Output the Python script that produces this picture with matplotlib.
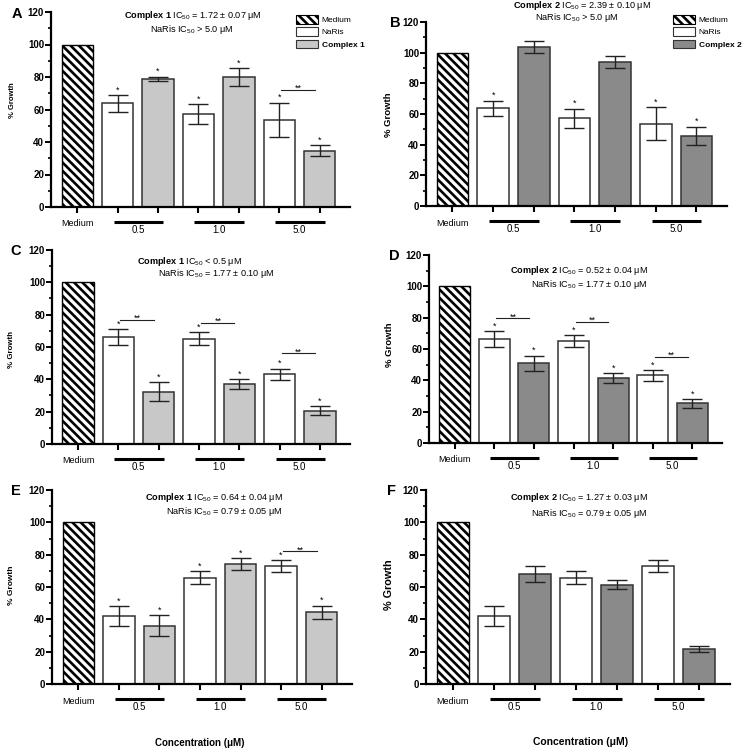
import matplotlib
matplotlib.use('Agg')
import matplotlib.pyplot as plt
import matplotlib.transforms as mtransforms
from matplotlib.patches import Patch
from matplotlib.ticker import MultipleLocator

plt.rcParams['font.family'] = ['Liberation Sans', 'DejaVu Sans']
plt.rcParams['mathtext.fontset'] = 'custom'
plt.rcParams['mathtext.rm'] = 'Liberation Sans'
plt.rcParams['mathtext.bf'] = 'Liberation Sans:bold'
plt.rcParams['mathtext.it'] = 'Liberation Sans:italic'
plt.rcParams['hatch.linewidth'] = 1.9

# data
conc_labels = ['0.5', '1.0', '5.0']
medium = 100

naris_A = [63.7, 57.1, 53.6]
naris_A_err = [5.0, 6.3, 10.7]
cx1_A = [78.9, 80.1, 34.7]
cx1_A_err = [1.4, 5.5, 3.5]

naris_B = [63.7, 57.2, 53.7]
naris_B_err = [5.0, 6.3, 10.7]
cx2_B = [104.0, 93.9, 45.9]
cx2_B_err = [3.9, 3.7, 5.9]

naris_C = [66.2, 65.0, 43.2]
naris_C_err = [5.1, 4.0, 3.5]
cx1_C = [32.4, 37.1, 20.6]
cx1_C_err = [5.8, 3.1, 2.7]

naris_D = [66.2, 65.0, 43.2]
naris_D_err = [5.1, 4.0, 3.5]
cx2_D = [50.8, 41.5, 25.4]
cx2_D_err = [5.0, 3.2, 2.8]

naris_E = [42.1, 65.8, 72.8]
naris_E_err = [6.3, 4.1, 3.6]
cx1_E = [35.9, 74.4, 44.3]
cx1_E_err = [6.5, 3.6, 4.2]

naris_F = [42.1, 65.8, 72.8]
naris_F_err = [6.3, 4.1, 3.6]
cx2_F = [68.2, 61.5, 21.4]
cx2_F_err = [4.8, 2.6, 1.9]

# single star flags (NaRis, complex) and double star brackets (group, height)
stars_A = ([1, 1, 1], [1, 1, 1]); pairs_A = [(2, 72)]
stars_B = ([1, 1, 1], [0, 0, 1]); pairs_B = []
stars_C = ([1, 1, 1], [1, 1, 1]); pairs_C = [(0, 77), (1, 75), (2, 56)]
stars_D = ([1, 1, 1], [1, 1, 1]); pairs_D = [(0, 79.5), (1, 77.3), (2, 55)]
stars_E = ([1, 1, 1], [1, 1, 1]); pairs_E = [(2, 82)]
stars_F = ([0, 0, 0], [0, 0, 0]); pairs_F = []

c1_color = '#c8c8c8'
c2_color = '#8a8a8a'
edge = '#333333'

W, H = 754, 755
fig = plt.figure(figsize=(W / 100, H / 100), dpi=100)


def rect(l, r, t, b):
    return [l / W, 1 - b / H, (r - l) / W, (b - t) / H]


def pt(x, y):
    return x / W, 1 - y / H


def draw_panel(ax, naris, naris_err, cx, cx_err, color, stars, pairs):
    xn = [1, 3, 5]
    xc = [2, 4, 6]
    ax.bar(0, medium, 0.78, color='white', edgecolor='black', hatch='\\\\\\\\', lw=1.0)
    ax.bar(xn, naris, 0.78, color='white', edgecolor=edge, lw=1.1)
    ax.bar(xc, cx, 0.78, color=color, edgecolor=edge, lw=1.1)
    ax.errorbar(xn, naris, yerr=naris_err, fmt='none', ecolor='#222222', elinewidth=1, capsize=7, capthick=1)
    ax.errorbar(xc, cx, yerr=cx_err, fmt='none', ecolor='#222222', elinewidth=1, capsize=7, capthick=1)
    for i in range(3):
        if stars[0][i]:
            ax.text(xn[i], naris[i] + naris_err[i] + 0.3, '*', ha='center', va='bottom', fontsize=6.5)
        if stars[1][i]:
            ax.text(xc[i], cx[i] + cx_err[i] + 0.3, '*', ha='center', va='bottom', fontsize=6.5)
    for g, h in pairs:
        ax.plot([xn[g] + 0.05, xn[g] + 0.88], [h, h], color='#222222', lw=0.8)
        ax.text(xn[g] + 0.47, h + 0.8, '**', ha='center', va='center', fontsize=6.5)

    ax.set_xlim(-0.65, 6.75)
    ax.set_ylim(0, 120)
    ax.spines['top'].set_visible(False)
    ax.spines['right'].set_visible(False)
    ax.spines['left'].set_linewidth(1.6)
    ax.spines['bottom'].set_linewidth(1.6)
    ax.yaxis.set_major_locator(MultipleLocator(20))
    ax.yaxis.set_minor_locator(MultipleLocator(10))
    ax.tick_params(axis='y', which='major', length=4, width=1.4, pad=1, labelsize=7)
    ax.tick_params(axis='y', which='minor', length=2.5, width=1.2)
    for lab in ax.get_yticklabels():
        lab.set_fontweight('bold')
    ax.set_xticks(range(7))
    ax.set_xticklabels(['Medium', '', '', '', '', '', ''])
    ax.tick_params(axis='x', length=4, width=1.5, pad=5, labelsize=6.5)

    base = mtransforms.blended_transform_factory(ax.transData, ax.transAxes)
    line_tr = mtransforms.offset_copy(base, fig=fig, y=-11, units='points')
    text_tr = mtransforms.offset_copy(base, fig=fig, y=-13, units='points')
    for i, lab in enumerate(conc_labels):
        ax.plot([xn[i] - 0.1, xn[i] + 1.12], [0, 0], color='black', lw=2.2,
                solid_capstyle='butt', transform=line_tr, clip_on=False)
        ax.text(xn[i] + 0.5, 0, lab, ha='center', va='top', fontsize=7, transform=text_tr)


axA = fig.add_axes(rect(51, 350, 12, 207))
axB = fig.add_axes(rect(426, 727, 22, 206))
axC = fig.add_axes(rect(52, 350, 250, 444))
axD = fig.add_axes(rect(429, 722, 255, 443))
axE = fig.add_axes(rect(52, 352, 490, 684))
axF = fig.add_axes(rect(426, 730, 490, 684))

draw_panel(axA, naris_A, naris_A_err, cx1_A, cx1_A_err, c1_color, stars_A, pairs_A)
draw_panel(axB, naris_B, naris_B_err, cx2_B, cx2_B_err, c2_color, stars_B, pairs_B)
draw_panel(axC, naris_C, naris_C_err, cx1_C, cx1_C_err, c1_color, stars_C, pairs_C)
draw_panel(axD, naris_D, naris_D_err, cx2_D, cx2_D_err, c2_color, stars_D, pairs_D)
draw_panel(axE, naris_E, naris_E_err, cx1_E, cx1_E_err, c1_color, stars_E, pairs_E)
draw_panel(axF, naris_F, naris_F_err, cx2_F, cx2_F_err, c2_color, stars_F, pairs_F)

# legends
for ax, color, name, x0 in [(axA, c1_color, 'Complex 1', 296), (axB, c2_color, 'Complex 2', 673)]:
    handles = [Patch(facecolor='white', edgecolor='black', hatch='\\\\\\\\', lw=0.8),
               Patch(facecolor='white', edgecolor=edge, lw=0.8),
               Patch(facecolor=color, edgecolor=edge, lw=0.8)]
    leg = ax.legend(handles, ['Medium', 'NaRis', name], loc='upper left',
                    bbox_to_anchor=pt(x0, 15), bbox_transform=fig.transFigure,
                    frameon=False, fontsize=6, borderpad=0, borderaxespad=0,
                    handlelength=2.6, handleheight=1.2, handletextpad=0.5, labelspacing=0.4)
    leg.get_texts()[2].set_fontweight('bold')

# IC50 annotations
ann = [
    ('Complex 1', '= 1.72 ± 0.07 μM', 'NaRis', '> 5.0 μM', 'center', (193, 16), (192, 29)),
    ('Complex 2', '= 2.39 ± 0.10 μM', 'NaRis', '> 5.0 μM', 'center', (582, 6), (577, 18)),
    ('Complex 1', '< 0.5 μM', 'NaRis', '= 1.77 ± 0.10 μM', 'center', (189, 261), (216, 274)),
    ('Complex 2', '= 0.52 ± 0.04 μM', 'NaRis', '= 1.77 ± 0.10 μM', 'right', (648, 270), (648, 285)),
    ('Complex 1', '= 0.64 ± 0.04 μM', 'NaRis', '= 0.79 ± 0.05 μM', 'right', (283, 498), (283, 512)),
    ('Complex 2', '= 1.27 ± 0.03 μM', 'NaRis', '= 0.79 ± 0.05 μM', 'right', (648, 498), (648, 513)),
]
for cname, cval, nname, nval, ha, p1, p2 in ann:
    s1 = r'$\mathbf{' + cname.replace(' ', r'\ ') + r'}$ IC$_{50}$ ' + cval
    s2 = nname + r' IC$_{50}$ ' + nval
    fig.text(*pt(*p1), s1, ha=ha, va='center', fontsize=6.6)
    fig.text(*pt(*p2), s2, ha=ha, va='center', fontsize=6.6)

# panel letters
for letter, (x, y) in zip('ABCDEF', [(17, 14), (395, 23), (16, 251), (394, 256), (16, 491), (392, 491)]):
    fig.text(*pt(x, y), letter, ha='center', va='center', fontsize=10.5, fontweight='bold')

# y labels
for (x, y), fs in zip([(12, 100), (389, 115), (12, 350), (390, 345), (12, 585), (389, 585)],
                      [5.5, 6.8, 5.7, 6.8, 6.0, 7.8]):
    fig.text(*pt(x, y), '% Growth', ha='center', va='center', rotation=90, fontsize=fs, fontweight='bold')

# x labels
fig.text(*pt(200, 743), 'Concentration (μM)', ha='center', va='center', fontsize=7, fontweight='bold')
fig.text(*pt(581, 742), 'Concentration (μM)', ha='center', va='center', fontsize=7.5, fontweight='bold')

fig.savefig('out.png', dpi=100)
